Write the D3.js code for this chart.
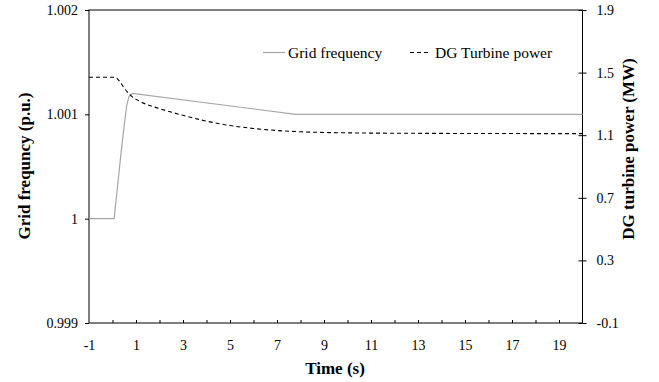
<!DOCTYPE html>
<meta charset="utf-8">
<style>
body { margin: 0; background: #fff; }
text { font-family: "Liberation Serif", "Times New Roman", serif; }
.axis path { display: none; }
.axis line { stroke: #000; }
.axis text { font-size: 14px; fill: #000; }
.title { font-size: 17px; font-weight: bold; }
.legend text { font-size: 15.5px; }
</style>
<svg class="chart" width="659" height="382"></svg>
<script src="https://d3js.org/d3.v7.min.js"></script>
<script>

// grid frequency (p.u.), left axis
var freqTime  = [-1, 0.07, 0.2, 0.35, 0.5, 0.6, 0.7, 0.85, 7.8, 20];
var freqValue = [1.0, 1.0, 1.00028, 1.0006, 1.0009, 1.00108, 1.00117, 1.0012, 1.001, 1.001];

// DG turbine power (MW), right axis
var powerTime  = [-1, 0.1, 0.3, 0.5, 0.75, 1.2, 2, 3, 4, 5, 6, 7, 8, 10, 13, 20];
var powerValue = [1.47, 1.47, 1.445, 1.40, 1.357, 1.314, 1.27, 1.227, 1.19, 1.162, 1.143, 1.13, 1.122, 1.115, 1.112, 1.11];

var xTicks = [-1, 1, 3, 5, 7, 9, 11, 13, 15, 17, 19];
var leftTicks = [0.999, 1, 1.001, 1.002];
var rightTicks = [-0.1, 0.3, 0.7, 1.1, 1.5, 1.9];
var seriesNames = ["Grid frequency", "DG Turbine power"];

var svg = d3.select(".chart"),
    plotLeft = 89, plotRight = 582.5, plotTop = 10, plotBottom = 323;

var x = d3.scaleLinear().domain([-1, 20]).range([plotLeft, plotRight]);
var yL = d3.scaleLinear().domain([0.999, 1.002]).range([plotBottom, plotTop]);
var yR = d3.scaleLinear().domain([-0.1, 1.9]).range([plotBottom, plotTop]);

// plain hyphen for negatives, as in the original
function hyph(f) { return function(d) { return f(d).replace("\u2212", "-"); }; }

// frame
svg.append("rect")
    .attr("x", plotLeft).attr("y", plotTop)
    .attr("width", plotRight - plotLeft).attr("height", plotBottom - plotTop)
    .attr("fill", "none").attr("stroke", "#000").attr("stroke-width", 1);

// bottom axis labels
svg.append("g").attr("class", "axis")
    .attr("transform", "translate(0," + plotBottom + ")")
    .call(d3.axisBottom(x).tickValues(xTicks).tickSize(0).tickPadding(17)
      .tickFormat(hyph(d3.format("d"))));

// bottom minor ticks, pointing inside
svg.append("g").attr("class", "axis")
    .attr("transform", "translate(0," + plotBottom + ")")
    .call(d3.axisBottom(x).tickValues(d3.range(0, 20)).tickSize(-3).tickFormat(""));

// left axis
svg.append("g").attr("class", "axis")
    .attr("transform", "translate(" + plotLeft + ",0)")
    .call(d3.axisLeft(yL).tickValues(leftTicks).tickSize(4).tickPadding(7)
      .tickFormat(function(d) { return d === 1 ? "1" : d3.format(".3f")(d); }));

// right axis, ticks crossing
svg.append("g").attr("class", "axis")
    .attr("transform", "translate(" + plotRight + ",0)")
    .call(d3.axisRight(yR).tickValues(rightTicks).tickSize(4).tickPadding(10)
      .tickFormat(hyph(d3.format(".1f"))));
svg.append("g").attr("class", "axis")
    .attr("transform", "translate(" + plotRight + ",0)")
    .call(d3.axisRight(yR).tickValues(rightTicks).tickSize(-4).tickFormat(""));

// lines
var freqLine = d3.line()
    .x(function(d, i) { return x(freqTime[i]); })
    .y(function(d) { return yL(d); });
var powerLine = d3.line()
    .x(function(d, i) { return x(powerTime[i]); })
    .y(function(d) { return yR(d); })
    .curve(d3.curveMonotoneX);

svg.append("path").datum(freqValue)
    .attr("d", freqLine)
    .attr("fill", "none").attr("stroke", "#a6a6a6").attr("stroke-width", 1.2);

svg.append("path").datum(powerValue)
    .attr("d", powerLine)
    .attr("fill", "none").attr("stroke", "#000").attr("stroke-width", 1.1)
    .attr("stroke-dasharray", "4,3");

// legend
var legend = svg.append("g").attr("class", "legend");
legend.append("line").attr("x1", 263).attr("x2", 285).attr("y1", 52.5).attr("y2", 52.5)
    .attr("stroke", "#a6a6a6").attr("stroke-width", 1.2);
legend.append("text").attr("x", 288).attr("y", 58)
    .text(seriesNames[0]);
legend.append("line").attr("x1", 410).attr("x2", 431).attr("y1", 52.5).attr("y2", 52.5)
    .attr("stroke", "#000").attr("stroke-width", 1).attr("stroke-dasharray", "4,3");
legend.append("text").attr("x", 435).attr("y", 58)
    .text(seriesNames[1]);

// titles
svg.append("text").attr("class", "title")
    .attr("x", 335).attr("y", 374).attr("text-anchor", "middle")
    .text("Time (s)");
svg.append("text").attr("class", "title")
    .attr("transform", "translate(30,166) rotate(-90)").attr("text-anchor", "middle")
    .text("Grid frequncy (p.u.)");
svg.append("text").attr("class", "title")
    .attr("transform", "translate(634,149) rotate(-90)").attr("text-anchor", "middle")
    .text("DG turbine power (MW)");

</script>
